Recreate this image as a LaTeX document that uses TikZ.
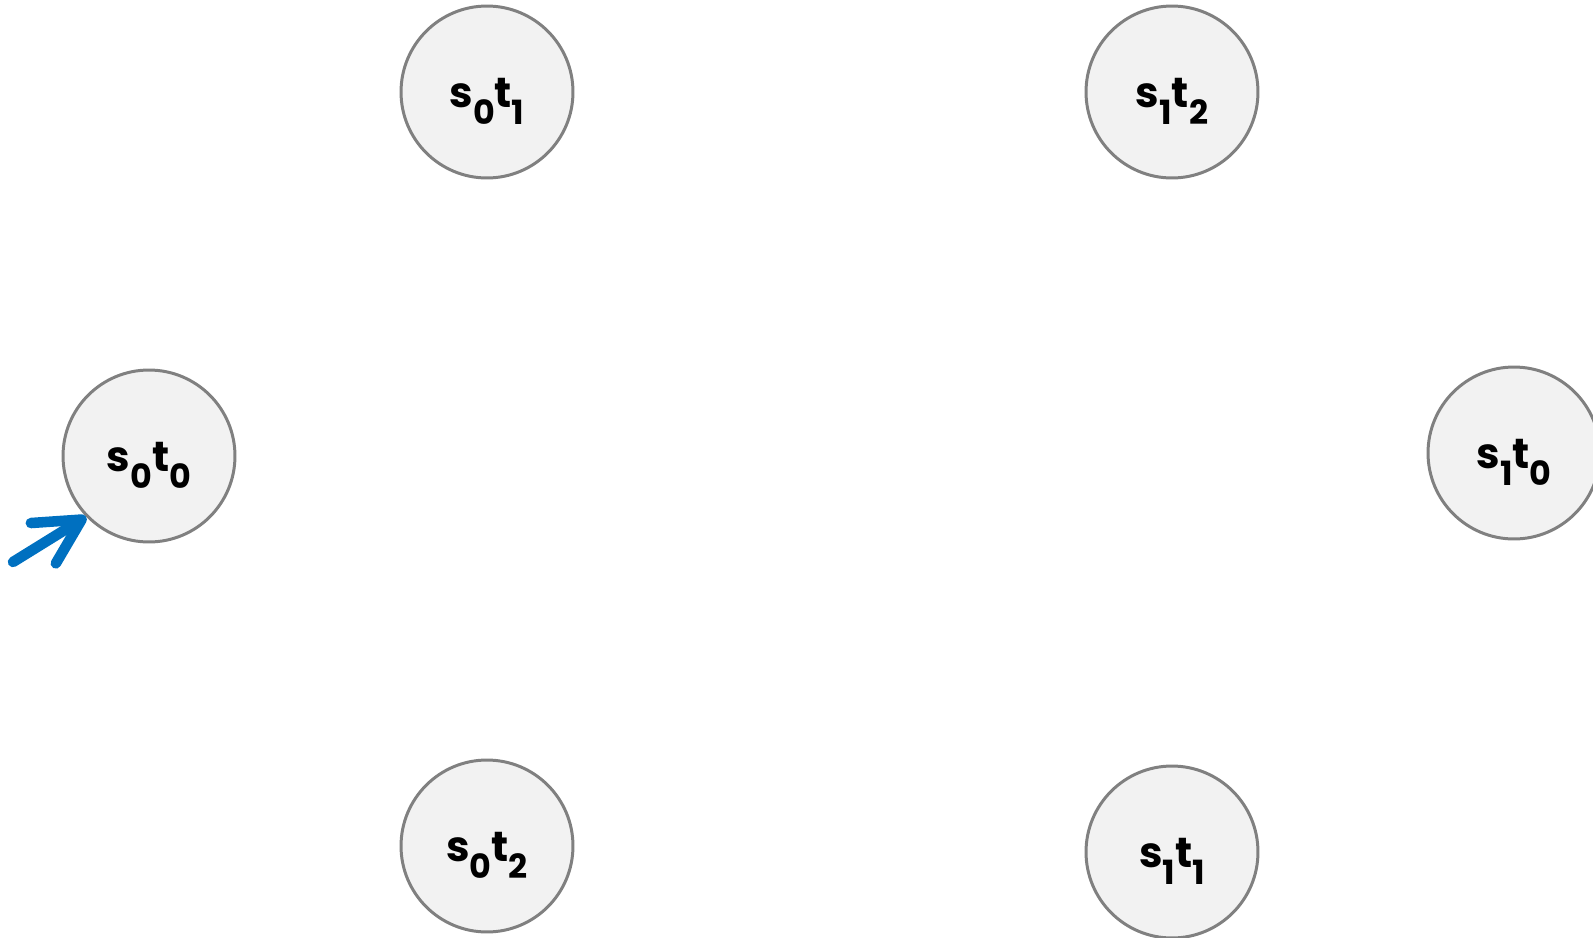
\documentclass[tikz,border=0pt]{standalone}
\usepackage{fontspec}
\setsansfont{Poppins}
\usepackage{xcolor}
\usetikzlibrary{arrows.meta}
\definecolor{ring}{RGB}{128,128,128}
\definecolor{fog}{RGB}{242,242,242}
\definecolor{start}{RGB}{0,112,192}
\newcommand{\stname}[2]{s\raisebox{-0.4em}{\fontsize{19}{20}\selectfont #1}t\raisebox{-0.4em}{\fontsize{19}{20}\selectfont #2}}

\begin{document}
\begin{tikzpicture}[x=0.02cm, y=-0.02cm,
  st/.style={circle, draw=ring, fill=fog, line width=1.7pt, minimum size=3.44cm, inner sep=0pt,
    text height=26pt, text depth=8pt, font=\sffamily\bfseries\fontsize{24}{26}\selectfont},
  init/.style={draw=start, line width=6pt, line cap=round, line join=round,
    -{Straight Barb[length=0.9cm, width=0.95cm, line cap=round, line join=round]}}]
\useasboundingbox (0,0) rectangle (1593,937);
\node[st] (s0t0) at (149,456) {\stname{0}{0}};
\node[st] (s0t1) at (487,92) {\stname{0}{1}};
\node[st] (s0t2) at (487,846) {\stname{0}{2}};
\node[st] (s1t2) at (1172,92) {\stname{1}{2}};
\node[st] (s1t0) at (1514,453) {\stname{1}{0}};
\node[st] (s1t1) at (1172,852) {\stname{1}{1}};
\coordinate (in) at (13,562);
\draw[init] (in) -- (s0t0.224);
\end{tikzpicture}
\end{document}
